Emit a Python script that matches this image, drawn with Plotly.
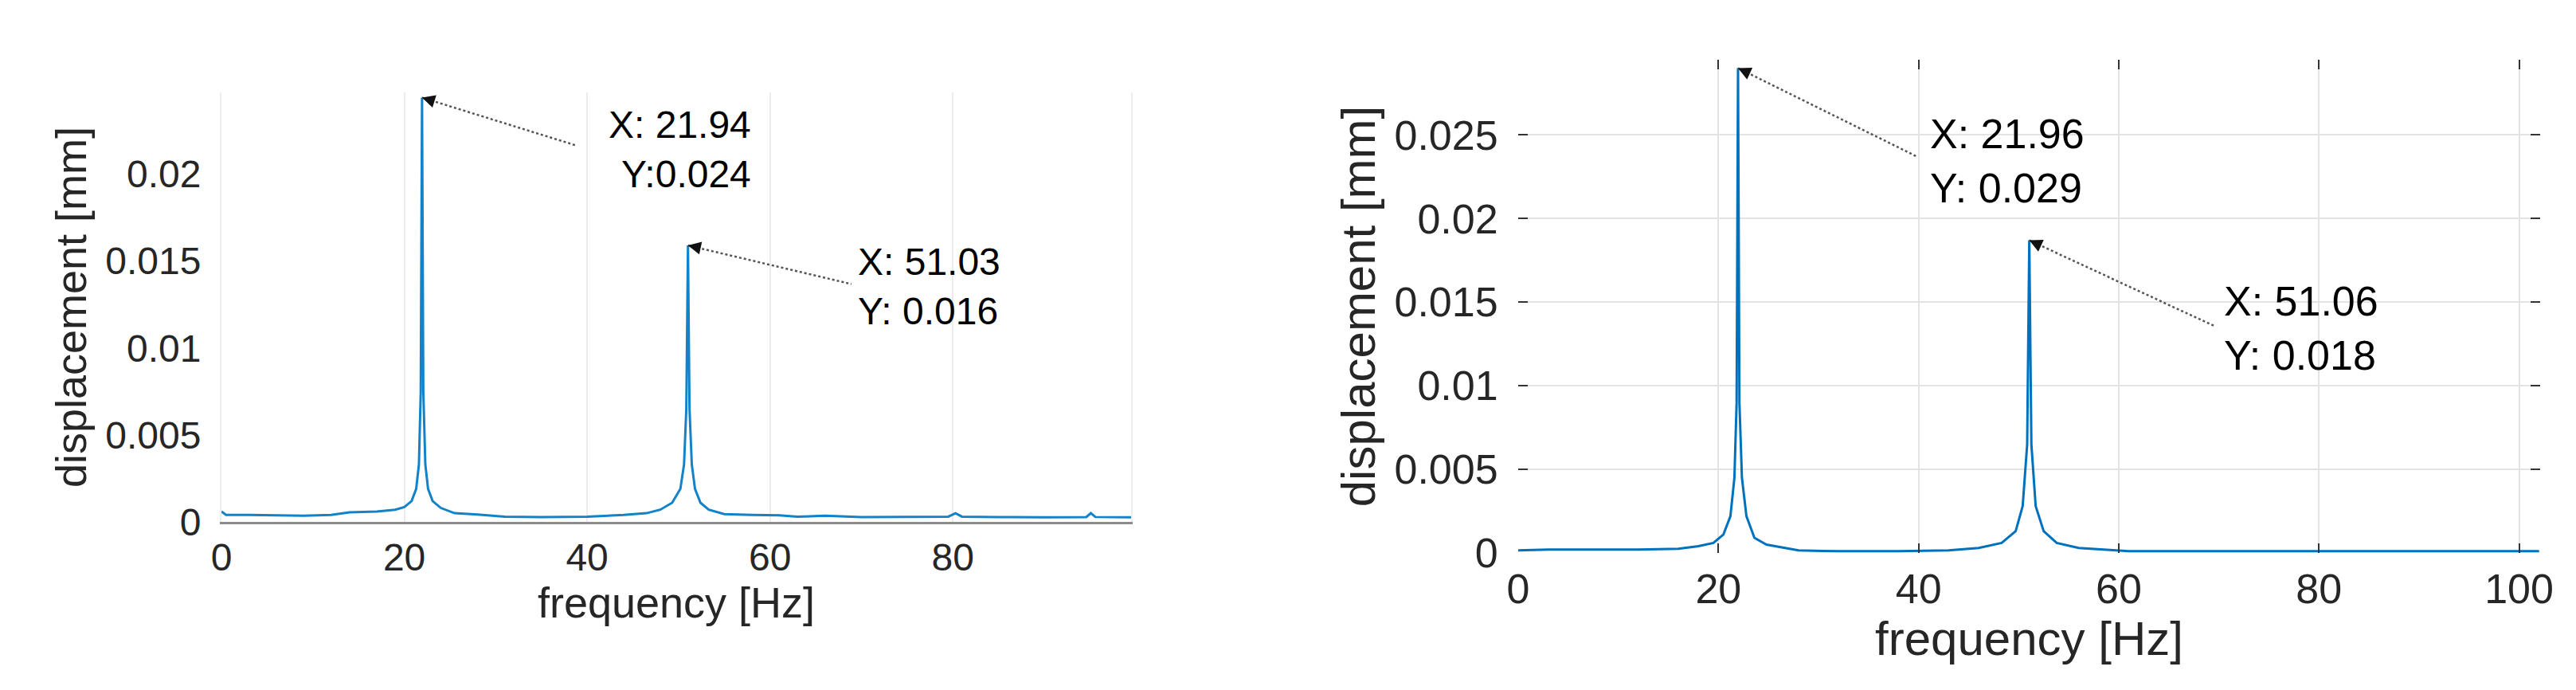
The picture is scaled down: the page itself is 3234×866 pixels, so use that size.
import plotly.graph_objects as go

# left panel: spectrum 1
freq_a = [0, 0.5, 3, 6, 9, 12, 14, 17, 19, 20, 20.8, 21.3, 21.6, 21.8, 21.94, 22.08, 22.3, 22.6,
          23.1, 24, 25.5, 28, 31, 35, 40, 44, 46.5, 48, 49.3, 50.2, 50.6, 50.85, 51.03, 51.2,
          51.45, 51.8, 52.4, 53.3, 55, 58, 61, 63, 66, 70, 75, 79.5, 80.3, 81, 85, 90, 94.6,
          95.1, 95.6, 99.5]
disp_a = [0.0006, 0.0004, 0.0004, 0.00038, 0.00036, 0.0004, 0.00055, 0.0006, 0.0007, 0.00085,
          0.0012, 0.0019, 0.0033, 0.0075, 0.0244, 0.0075, 0.0033, 0.0019, 0.0012, 0.0008, 0.0005,
          0.00042, 0.0003, 0.00028, 0.0003, 0.0004, 0.0005, 0.0007, 0.0011, 0.0019, 0.0033,
          0.0065, 0.0159, 0.0065, 0.0033, 0.0019, 0.0011, 0.0007, 0.00045, 0.0004, 0.00038,
          0.0003, 0.00035, 0.00028, 0.00028, 0.0003, 0.0005, 0.0003, 0.00028, 0.00026, 0.00028,
          0.0005, 0.00028, 0.00026]

# right panel: spectrum 2
freq_b = [0, 3, 8, 12, 16, 18, 19.5, 20.5, 21.2, 21.6, 21.82, 21.96, 22.1, 22.35, 22.8, 23.6,
          24.8, 26.5, 28, 32, 38, 43, 46, 48.3, 49.7, 50.4, 50.85, 51.06, 51.27, 51.7, 52.5,
          53.8, 56, 58.5, 61, 70, 80, 90, 102]
disp_b = [0.00015, 0.0002, 0.0002, 0.0002, 0.00025, 0.0004, 0.0006, 0.0011, 0.0022, 0.0045,
          0.009, 0.0290, 0.009, 0.0045, 0.0022, 0.0009, 0.0005, 0.0003, 0.00015, 0.0001, 0.0001,
          0.00015, 0.0003, 0.0006, 0.0013, 0.0028, 0.0065, 0.0187, 0.0065, 0.0028, 0.0013,
          0.0006, 0.0003, 0.0002, 0.0001, 0.0001, 0.0001, 0.0001, 0.0001]

# data tips
peaks_a_x = [21.94, 51.03]
peaks_a_y = [0.0244, 0.0159]
labels_a = ["X: 21.94<br>Y:0.024", "X: 51.03<br>Y: 0.016"]
peaks_b_x = [21.96, 51.06]
peaks_b_y = [0.0290, 0.0187]
labels_b = ["X: 21.96<br>Y: 0.029", "X: 51.06<br>Y: 0.018"]

x_ticks_a = [0, 20, 40, 60, 80]
x_ticks_b = [0, 20, 40, 60, 80, 100]
y_ticks_a = [0, 0.005, 0.01, 0.015, 0.02]
y_ticks_b = [0, 0.005, 0.01, 0.015, 0.02, 0.025]

FONT = "Liberation Sans, Arial, sans-serif"
BLUE = "#0072BD"
CLEAR = "rgba(0,0,0,0)"

fig = go.Figure()
fig.add_trace(go.Scatter(x=freq_a, y=disp_a, mode="lines", xaxis="x", yaxis="y",
                         line=dict(color="#1283C9", width=3), showlegend=False))
fig.add_trace(go.Scatter(x=freq_b, y=disp_b, mode="lines", xaxis="x2", yaxis="y2",
                         line=dict(color=BLUE, width=3), showlegend=False))

tick_font_a = dict(family=FONT, size=48, color="#262626")
tick_font_b = dict(family=FONT, size=52, color="#262626")

fig.update_layout(
    width=3234, height=866,
    paper_bgcolor="white", plot_bgcolor="white",
    margin=dict(l=0, r=0, t=0, b=0),
    font=dict(family=FONT),
    xaxis=dict(domain=[0.0835, 0.4366], range=[0, 99.5], tickvals=x_ticks_a,
               ticktext=[str(v) for v in x_ticks_a], tickfont=tick_font_a,
               showgrid=True, gridcolor="#ececec", gridwidth=2, zeroline=False,
               showline=True, linecolor="#8c8c8c", linewidth=3, layer="below traces",
               ticks="", ticklen=0, ticklabelstandoff=0, automargin=False, anchor="y",
               title=dict(text="frequency [Hz]", font=dict(family=FONT, size=54, color="#262626"),
                          standoff=0)),
    yaxis=dict(domain=[0.2529, 0.8753], range=[0, 0.0247], tickvals=y_ticks_a,
               ticktext=["0", "0.005", "0.01", "0.015", "0.02"], tickfont=tick_font_a,
               showgrid=False, zeroline=False, showline=True, linecolor="#eeeeee",
               linewidth=2, mirror=True, ticks="", ticklabelstandoff=14, automargin=False,
               anchor="x",
               title=dict(text="displacement [mm]", font=dict(family=FONT, size=54, color="#262626"),
                          standoff=6)),
    # right panel: invisible box line so only the tick marks are mirrored to top / right,
    # the visible bottom line is the y=0 zero line
    xaxis2=dict(domain=[0.5869, 0.9836], range=[0, 102.1], tickvals=x_ticks_b,
                ticktext=[str(v) for v in x_ticks_b], tickfont=tick_font_b,
                showgrid=True, gridcolor="#e3e3e3", gridwidth=2, zeroline=False,
                showline=True, linecolor=CLEAR, mirror="ticks",
                ticks="inside", ticklen=12, tickwidth=2, tickcolor="#333333",
                ticklabelstandoff=0, automargin=False, anchor="y2",
                title=dict(text="frequency [Hz]", font=dict(family=FONT, size=60, color="#262626"),
                           standoff=0)),
    yaxis2=dict(domain=[0.2079, 0.9226], range=[0, 0.0295], tickvals=y_ticks_b,
                ticktext=["0", "0.005", "0.01", "0.015", "0.02", "0.025"], tickfont=tick_font_b,
                showgrid=True, gridcolor="#e3e3e3", gridwidth=2,
                zeroline=True, zerolinecolor="#6e6e6e", zerolinewidth=3,
                showline=True, linecolor=CLEAR, mirror="ticks",
                ticks="inside", ticklen=12, tickwidth=2, tickcolor="#333333",
                ticklabelstandoff=14, automargin=False, anchor="x2",
                title=dict(text="displacement [mm]", font=dict(family=FONT, size=60, color="#262626"),
                           standoff=4)),
)

# dotted leader lines from each peak to its data tip, with a small arrow head at the peak
leaders_a = [(38.8, 0.02165), (68.9, 0.01368)]
leaders_b = [(39.8, 0.02372), (69.6, 0.01356)]
arrow_px_a = [(13, 4), (14, 3)]
arrow_px_b = [(13, 6), (13, 6)]

for (px, py), (lx, ly), (ax, ay), xr, yr in [
    (p, l, a, "x", "y") for p, l, a in zip(zip(peaks_a_x, peaks_a_y), leaders_a, arrow_px_a)
] + [
    (p, l, a, "x2", "y2") for p, l, a in zip(zip(peaks_b_x, peaks_b_y), leaders_b, arrow_px_b)
]:
    fig.add_shape(type="line", xref=xr, yref=yr, x0=px, y0=py, x1=lx, y1=ly,
                  line=dict(color="#555555", width=2.5, dash="dot"))
    fig.add_annotation(xref=xr, yref=yr, x=px, y=py, text="", showarrow=True,
                       ax=ax, ay=ay, arrowhead=2, arrowsize=1.3, arrowwidth=2.5,
                       arrowcolor="#111111", standoff=0, startstandoff=0)

# data tip texts
tip_pos_a = [(58.1, 0.02144, "right"), (69.45, 0.01352, "left")]
tip_pos_b = [(40.96, 0.02344, "left"), (70.38, 0.01346, "left")]
for (tx, ty, side), txt in zip(tip_pos_a, labels_a):
    fig.add_annotation(xref="x", yref="y", x=tx, y=ty, text=txt, showarrow=False,
                       xanchor=side, yanchor="middle", align=side,
                       font=dict(family=FONT, size=48, color="black"))
for (tx, ty, side), txt in zip(tip_pos_b, labels_b):
    fig.add_annotation(xref="x2", yref="y2", x=tx, y=ty, text=txt, showarrow=False,
                       xanchor=side, yanchor="middle", align=side,
                       font=dict(family=FONT, size=52, color="black"))

fig.write_html("out.html")
